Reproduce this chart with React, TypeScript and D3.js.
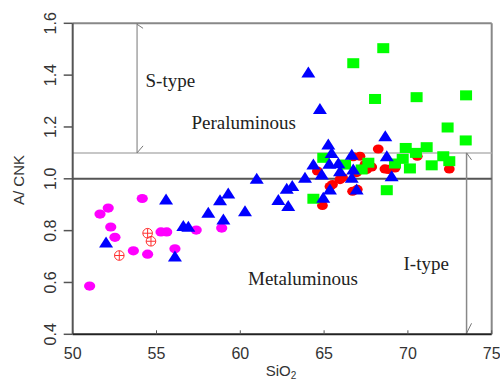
import React from "react";
import * as d3 from "d3";

// SiO2 (wt%) vs A/CNK
const magentaPts: [number, number][] = [
  [54.15, 0.924], [52.12, 0.887], [51.63, 0.864], [52.27, 0.814], [52.52, 0.774],
  [55.27, 0.795], [55.61, 0.795], [53.62, 0.722], [54.47, 0.709], [51.01, 0.586],
  [56.1, 0.73], [57.37, 0.802], [58.89, 0.81],
];
const redCrossPts: [number, number][] = [
  [54.47, 0.79], [54.67, 0.759], [52.78, 0.704],
];
const redPts: [number, number][] = [
  [66.74, 1.085], [65.95, 0.997], [66.1, 1.005], [65.5, 0.978], [65.35, 0.97],
  [66.94, 1.024], [64.6, 1.03], [67.44, 1.055], [66.7, 0.952], [68.23, 1.115],
  [67.14, 1.087], [67.84, 1.046], [68.83, 1.036], [68.63, 1.038], [70.56, 1.087],
  [72.47, 1.038], [64.9, 0.897], [69.23, 1.042], [67.54, 1.036], [66.98, 0.959],
];
const greenPts: [number, number][] = [
  [68.53, 1.504], [66.74, 1.446], [68.04, 1.308], [70.52, 1.315], [73.47, 1.322],
  [72.37, 1.198], [73.45, 1.148], [69.87, 1.119], [71.12, 1.122], [70.48, 1.1],
  [72.11, 1.087], [72.47, 1.068], [69.69, 1.077], [71.42, 1.052], [70.12, 1.04],
  [69.23, 1.059], [67.64, 1.062], [67.24, 1.036], [66.25, 1.055], [64.95, 1.081],
  [68.74, 0.956], [64.36, 0.923],
];
const bluePts: [number, number][] = [
  [55.57, 0.92], [51.99, 0.754], [56.1, 0.7], [56.6, 0.818], [56.9, 0.815],
  [58.09, 0.869], [58.79, 0.917], [59.28, 0.943], [58.99, 0.843], [60.28, 0.875],
  [60.98, 1.0], [62.27, 0.918], [62.86, 0.895], [62.77, 0.962], [63.1, 0.972],
  [64.06, 1.41], [64.75, 1.269], [68.65, 1.164], [65.25, 1.132], [65.45, 1.1],
  [66.65, 1.093], [64.36, 1.055], [65.31, 1.058], [65.85, 1.06], [63.86, 1.004],
  [64.86, 1.017], [65.95, 1.029], [66.74, 1.036], [66.65, 1.004], [65.35, 0.959],
  [66.94, 0.959], [64.95, 0.927], [68.74, 1.087], [69.03, 1.01],
];
const xTicks = [50, 55, 60, 65, 70, 75];
const yTicks = [0.4, 0.6, 0.8, 1.0, 1.2, 1.4, 1.6];
const sTypeX = 53.84;
const iTypeX = 73.5;
const boundary = 1.1;

export default function App() {
  const x = d3.scaleLinear().domain([50, 75]).range([72.7, 491.7]);
  const y = d3.scaleLinear().domain([0.4, 1.6]).range([334.3, 23.3]);
  const tri = (cx: number, cy: number) =>
    `M${cx - 7},${cy + 5}L${cx + 7},${cy + 5}L${cx},${cy - 6}Z`;
  const serif = "'Liberation Serif', 'DejaVu Serif', serif";
  const sans = "'Liberation Sans', Arial, sans-serif";
  return (
    <svg width={500} height={383} style={{ position: "absolute", left: 0, top: 0, background: "#fff" }}>
      {/* box */}
      <line x1={x(50)} x2={x(75)} y1={y(1.6)} y2={y(1.6)} stroke="#888" strokeWidth={2} />
      <line x1={x(75)} x2={x(75)} y1={y(1.6)} y2={y(0.4)} stroke="#888" strokeWidth={2} />
      {/* reference lines */}
      <line x1={x(50)} x2={x(75)} y1={y(boundary)} y2={y(boundary)} stroke="#b5b5b5" strokeWidth={1.5} />
      <line x1={x(50)} x2={x(75)} y1={y(1.0)} y2={y(1.0)} stroke="#555" strokeWidth={2} />
      {/* S-type arrow */}
      <line x1={x(sTypeX)} x2={x(sTypeX)} y1={y(1.6)} y2={y(boundary)} stroke="#777" strokeWidth={1} />
      <line x1={x(sTypeX)} x2={x(sTypeX) + 6} y1={y(1.6) + 1} y2={y(1.6) + 5} stroke="#777" strokeWidth={1} />
      <line x1={x(sTypeX)} x2={x(sTypeX) + 6} y1={y(boundary)} y2={y(boundary) - 7} stroke="#777" strokeWidth={1} />
      {/* I-type arrow */}
      <line x1={x(iTypeX)} x2={x(iTypeX)} y1={y(boundary)} y2={y(0.4)} stroke="#888" strokeWidth={1.5} />
      <line x1={x(iTypeX)} x2={x(iTypeX) + 5} y1={y(boundary)} y2={y(boundary) + 7} stroke="#777" strokeWidth={1} />
      <line x1={x(iTypeX)} x2={x(iTypeX) + 5} y1={y(0.4) - 1} y2={y(0.4) - 11} stroke="#777" strokeWidth={1} />
      {/* axes */}
      <line x1={x(50)} x2={x(50)} y1={y(1.6)} y2={y(0.4)} stroke="#555" strokeWidth={2} />
      <line x1={x(50)} x2={x(75)} y1={y(0.4)} y2={y(0.4)} stroke="#222" strokeWidth={2} />
      {yTicks.map((t) => (
        <g key={"y" + t}>
          <line x1={x(50) - 9} x2={x(50)} y1={y(t)} y2={y(t)} stroke="#555" strokeWidth={1.5} />
          <text
            transform={`translate(${x(50) - 17},${y(t)}) rotate(-90)`}
            textAnchor="middle"
            fontFamily={sans}
            fontSize={16}
            fill="#333"
          >
            {t.toFixed(1)}
          </text>
        </g>
      ))}
      {xTicks.map((t) => (
        <g key={"x" + t}>
          <line x1={x(t)} x2={x(t)} y1={y(0.4) - 4} y2={y(0.4)} stroke="#555" strokeWidth={1} />
          <text x={x(t)} y={359} textAnchor="middle" fontFamily={sans} fontSize={16} fill="#333">
            {t}
          </text>
        </g>
      ))}
      <text x={281} y={376} textAnchor="middle" fontFamily={sans} fontSize={15} fill="#333">
        SiO<tspan fontSize={10} dy={3}>2</tspan>
      </text>
      <text transform="translate(24,180) rotate(-90)" textAnchor="middle" fontFamily={sans} fontSize={15} fill="#333">
        A/ CNK
      </text>
      {/* annotations */}
      <text x={145.5} y={87} fontFamily={serif} fontSize={19} fill="#222">S-type</text>
      <text x={191.5} y={128.5} fontFamily={serif} fontSize={19} fill="#222">Peraluminous</text>
      <text x={248} y={284.5} fontFamily={serif} fontSize={19} fill="#222">Metaluminous</text>
      <text x={403.5} y={270} fontFamily={serif} fontSize={19} fill="#222">I-type</text>
      {/* points */}
      {redCrossPts.map((p, i) => (
        <g key={"rc" + i} stroke="#ff3030" strokeWidth={1} fill="none">
          <circle cx={x(p[0])} cy={y(p[1])} r={4.8} />
          <line x1={x(p[0]) - 4.8} x2={x(p[0]) + 4.8} y1={y(p[1])} y2={y(p[1])} />
          <line x1={x(p[0])} x2={x(p[0])} y1={y(p[1]) - 4.8} y2={y(p[1]) + 4.8} />
        </g>
      ))}
      {magentaPts.map((p, i) => (
        <ellipse key={"m" + i} cx={x(p[0])} cy={y(p[1])} rx={5.6} ry={4.6} fill="#ff00ff" />
      ))}
      {redPts.map((p, i) => (
        <ellipse key={"r" + i} cx={x(p[0])} cy={y(p[1])} rx={5.4} ry={4.6} fill="#ff0000" />
      ))}
      {greenPts.map((p, i) => (
        <rect key={"g" + i} x={x(p[0]) - 6} y={y(p[1]) - 5} width={12} height={10} fill="#00ff00" />
      ))}
      {bluePts.map((p, i) => (
        <path key={"b" + i} d={tri(x(p[0]), y(p[1]))} fill="#0000ff" />
      ))}
    </svg>
  );
}
